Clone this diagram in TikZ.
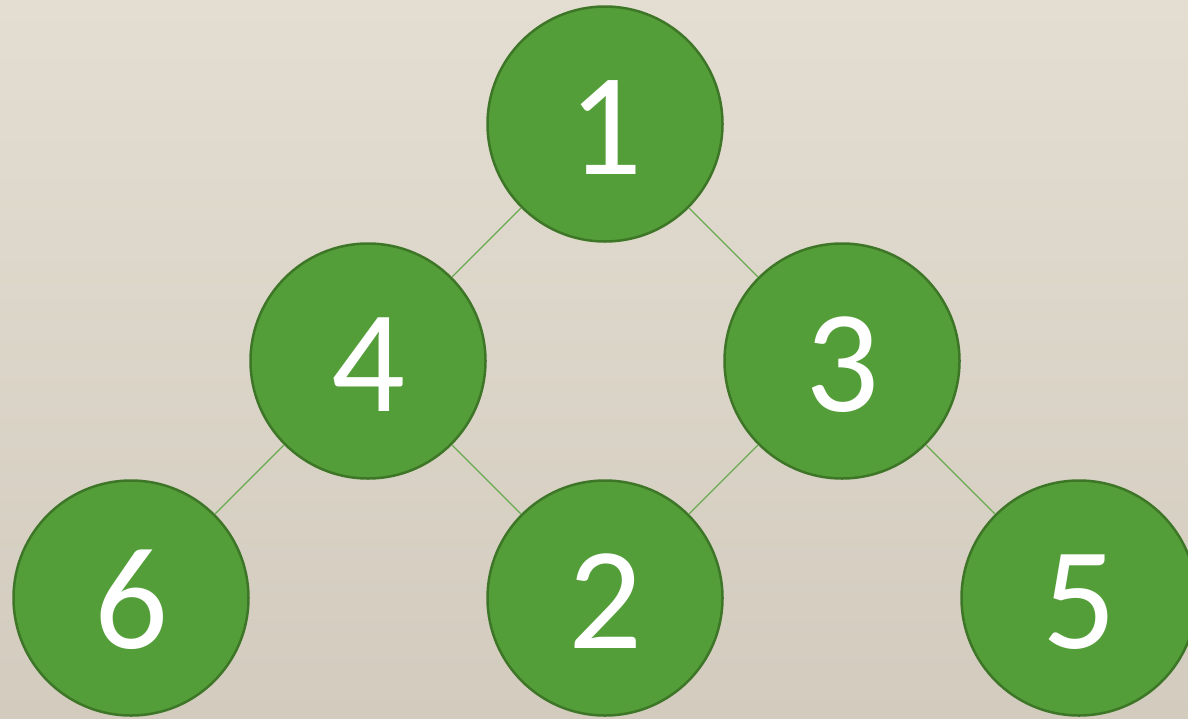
\documentclass[tikz,border=0pt]{standalone}
\usepackage{fontspec}
\setmainfont{Carlito}
\usetikzlibrary{positioning}
\definecolor{bgtop}{RGB}{228,222,210}
\definecolor{bgbot}{RGB}{210,203,190}
\definecolor{nodefill}{RGB}{84,158,58}
\definecolor{nodeline}{RGB}{62,118,40}
\definecolor{edgeline}{RGB}{104,170,80}

\begin{document}
\begin{tikzpicture}[
    x=1pt, y=-1pt,
    node distance=237pt and 237pt,
    on grid,
    vert/.style={draw=nodeline, fill=nodefill, circle, line width=2.5pt,
                 minimum size=235pt, inner sep=0pt, text=white,
                 text height=101pt, text depth=0pt,
                 font=\fontsize{146}{146}\selectfont},
    edge/.style={draw=edgeline, line width=1.2pt},
  ]
    \shade[top color=bgtop, bottom color=bgbot] (0,0) rectangle (1188,718);
    \useasboundingbox (0,0) rectangle (1188,718);
    \node[vert] (n1) at (605,124) {1};
    \node[vert, below left=of n1]  (n4) {4};
    \node[vert, below right=of n1] (n3) {3};
    \node[vert, below left=of n4]  (n6) {6};
    \node[vert, below right=of n4] (n2) {2};
    \node[vert, below right=of n3] (n5) {5};
    \draw[edge] (n1) -- (n4);
    \draw[edge] (n1) -- (n3);
    \draw[edge] (n4) -- (n6);
    \draw[edge] (n4) -- (n2);
    \draw[edge] (n3) -- (n2);
    \draw[edge] (n3) -- (n5);
\end{tikzpicture}
\end{document}
